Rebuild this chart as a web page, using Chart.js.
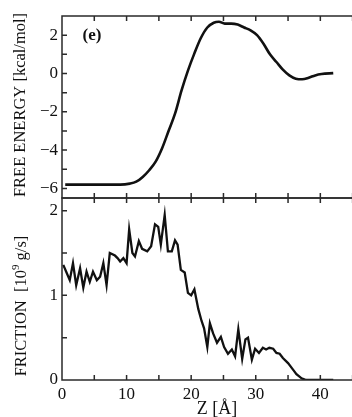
<!DOCTYPE html>
<html><head><meta charset="utf-8">
<script src="https://cdn.jsdelivr.net/npm/chart.js@4.4.0/dist/chart.umd.min.js"></script>
<style>
html,body{margin:0;padding:0;background:#fff;overflow:hidden;width:352px;height:417px;}
#wrap{position:relative;width:352px;height:417px;overflow:hidden;background:#fff;}
canvas{position:absolute;left:0;}
#c1{top:0;} #c2{top:190px;}
</style></head><body>
<div id="wrap"><canvas id="c1" width="374" height="200"></canvas><canvas id="c2" width="374" height="230"></canvas></div>
<script>
const zEnergy = [0.5, 3, 6, 9, 10.5, 11.5, 12.5, 13.5, 14.5, 15.5, 16.5, 17.5, 18.5, 19.5, 20.5, 21.5, 22.5, 23.5, 24.3, 25.2, 26.2, 27.2, 28.2, 29.2, 30.2, 31.2, 32.2, 33.2, 34.2, 35.2, 36.2, 37.2, 38.2, 39.2, 40.2, 42];
const energy = [-5.8, -5.8, -5.8, -5.8, -5.75, -5.65, -5.4, -5.05, -4.6, -3.9, -3.0, -2.1, -0.9, 0.15, 1.05, 1.85, 2.4, 2.65, 2.7, 2.6, 2.6, 2.55, 2.4, 2.25, 2.0, 1.55, 1.0, 0.6, 0.2, -0.1, -0.27, -0.3, -0.22, -0.1, -0.03, 0.02];

const zFriction = [0.2, 0.7, 1.2, 1.7, 2.2, 2.8, 3.3, 3.8, 4.3, 4.8, 5.4, 5.9, 6.4, 6.9, 7.4, 8.2, 8.6, 9.0, 9.5, 10.0, 10.4, 10.9, 11.3, 11.9, 12.4, 13.2, 13.8, 14.4, 14.9, 15.3, 15.9, 16.4, 17.0, 17.5, 17.9, 18.4, 19.0, 19.5, 20.0, 20.5, 21.1, 21.6, 22.0, 22.5, 22.9, 23.4, 24.0, 24.6, 25.1, 25.7, 26.3, 26.8, 27.3, 27.9, 28.4, 28.8, 29.4, 29.9, 30.5, 31.1, 31.6, 32.1, 32.7, 33.2, 33.7, 34.2, 35.0, 35.8, 36.3, 37.1, 37.8, 40, 42];
const friction = [1.36, 1.27, 1.18, 1.38, 1.12, 1.32, 1.09, 1.28, 1.16, 1.28, 1.18, 1.22, 1.38, 1.12, 1.50, 1.47, 1.44, 1.40, 1.44, 1.38, 1.78, 1.50, 1.46, 1.64, 1.55, 1.52, 1.58, 1.84, 1.81, 1.60, 1.95, 1.52, 1.52, 1.65, 1.60, 1.30, 1.27, 1.03, 1.00, 1.07, 0.84, 0.70, 0.61, 0.39, 0.67, 0.55, 0.44, 0.51, 0.39, 0.31, 0.36, 0.28, 0.60, 0.25, 0.48, 0.50, 0.24, 0.37, 0.32, 0.38, 0.36, 0.38, 0.37, 0.32, 0.31, 0.26, 0.20, 0.12, 0.07, 0.02, 0.0, 0.0, 0.0];

const xTicks = [0, 5, 10, 15, 20, 25, 30, 35, 40, 45];
const energyTicks = [-6, -5, -4, -3, -2, -1, 0, 1, 2];
const frictionTicks = [0, 0.5, 1, 1.5, 2];
const xTitle = 'Z [Å]';
const energyTitle = 'FREE ENERGY [kcal/mol]';
const frictionTitle = ['FRICTION  [10', '9', ' g/s]'];
const panelLabel = '(e)';

const SERIF = '"Liberation Serif", "Times New Roman", serif';
const INK = '#111';

function pts(xs, ys) { return xs.map((x, i) => ({x: x, y: ys[i]})); }
function fmt(v) { return v < 0 ? '\u2212' + Math.abs(v) : String(v); }

const framePlugin = {
  id: 'frame',
  afterDatasetsDraw(chart, args, opts) {
    const {ctx, chartArea: a, scales} = chart;
    ctx.save();
    ctx.strokeStyle = '#2a2a2a';
    ctx.lineWidth = 1.5;
    ctx.strokeRect(a.left, a.top, a.right - a.left, a.bottom - a.top);
    const L = 5;
    ctx.beginPath();
    opts.xt.forEach(v => {
      const px = scales.x.getPixelForValue(v);
      if (px <= a.left + 1 || px >= a.right - 1) return;
      ctx.moveTo(px, a.top); ctx.lineTo(px, a.top + L);
      ctx.moveTo(px, a.bottom); ctx.lineTo(px, a.bottom - L);
    });
    opts.yt.forEach(v => {
      const py = scales.y.getPixelForValue(v);
      if (py <= a.top + 1 || py >= a.bottom - 1) return;
      ctx.moveTo(a.left, py); ctx.lineTo(a.left + L, py);
      ctx.moveTo(a.right, py); ctx.lineTo(a.right - L, py);
    });
    ctx.stroke();
    ctx.restore();
    ctx.save();
    ctx.fillStyle = INK;
    ctx.translate(opts.tx, opts.ty);
    ctx.rotate(-Math.PI / 2);
    ctx.textBaseline = 'middle';
    ctx.textAlign = 'left';
    const parts = opts.title;
    const fonts = parts.length === 3 ? ['16.5px ' + SERIF, '11px ' + SERIF, '16.5px ' + SERIF] : ['16.5px ' + SERIF];
    const offs = parts.length === 3 ? [0, -6, 0] : [0];
    let w = 0;
    const ws = parts.map((p, i) => { ctx.font = fonts[i]; const m = ctx.measureText(p).width; w += m; return m; });
    let x = -w / 2;
    parts.forEach((p, i) => { ctx.font = fonts[i]; ctx.fillText(p, x, offs[i]); x += ws[i]; });
    ctx.restore();
    if (opts.label) {
      ctx.save();
      ctx.fillStyle = INK;
      ctx.font = 'bold 17px ' + SERIF;
      ctx.textAlign = 'center';
      ctx.textBaseline = 'middle';
      ctx.fillText(opts.label, 92, 36);
      ctx.restore();
    }
  }
};

const yCommon = (ticks, labelFn, min, max) => ({
  type: 'linear', min: min, max: max,
  afterBuildTicks: s => { s.ticks = ticks.map(v => ({value: v})); },
  afterFit: s => { s.width = 62; s.paddingTop = 0; s.paddingBottom = 0; s.paddingLeft = 0; s.paddingRight = 0; },
  grid: {display: false, drawTicks: false},
  border: {display: false},
  ticks: {padding: 4, color: INK, font: {family: SERIF, size: 17}, callback: labelFn, autoSkip: false}
});

new Chart(document.getElementById('c1'), {
  type: 'line',
  data: {datasets: [{data: pts(zEnergy, energy), borderColor: INK, borderWidth: 2.6, pointRadius: 0, fill: false, cubicInterpolationMode: 'monotone'}]},
  options: {
    responsive: false, animation: false, devicePixelRatio: 1,
    layout: {padding: {left: 0, top: 16, right: 2, bottom: 2}},
    plugins: {legend: {display: false}, tooltip: {enabled: false},
      frame: {xt: xTicks, yt: energyTicks, title: [energyTitle], tx: 21, ty: 105, label: panelLabel}},
    scales: {
      x: {type: 'linear', min: 0, max: 48, display: false},
      y: yCommon(energyTicks, v => (v % 2 === 0 ? fmt(v) : ''), -6.5, 3)
    }
  },
  plugins: [framePlugin]
});

new Chart(document.getElementById('c2'), {
  type: 'line',
  data: {datasets: [{data: pts(zFriction, friction), borderColor: INK, borderWidth: 2.3, pointRadius: 0, fill: false, tension: 0}]},
  options: {
    responsive: false, animation: false, devicePixelRatio: 1,
    layout: {padding: {left: 0, top: 8, right: 2, bottom: 0}},
    plugins: {legend: {display: false}, tooltip: {enabled: false},
      frame: {xt: xTicks, yt: frictionTicks, title: frictionTitle, tx: 22, ty: 116, label: null}},
    scales: {
      x: {type: 'linear', min: 0, max: 48,
        afterBuildTicks: s => { s.ticks = xTicks.map(v => ({value: v})); },
        afterFit: s => { s.height = 40; s.paddingLeft = 0; s.paddingRight = 0; s.paddingTop = 0; s.paddingBottom = 0; },
        grid: {display: false, drawTicks: false},
        border: {display: false},
        ticks: {padding: 4, color: INK, maxRotation: 0, autoSkip: false, font: {family: SERIF, size: 17},
          callback: v => (v % 10 === 0 ? String(v) : '')},
        title: {display: true, text: xTitle, color: INK, font: {family: SERIF, size: 18}, padding: {top: 0, bottom: 0}}
      },
      y: yCommon(frictionTicks, v => (Number.isInteger(v) ? String(v) : ''), 0, 2.15)
    }
  },
  plugins: [framePlugin]
});
</script>
</body></html>
